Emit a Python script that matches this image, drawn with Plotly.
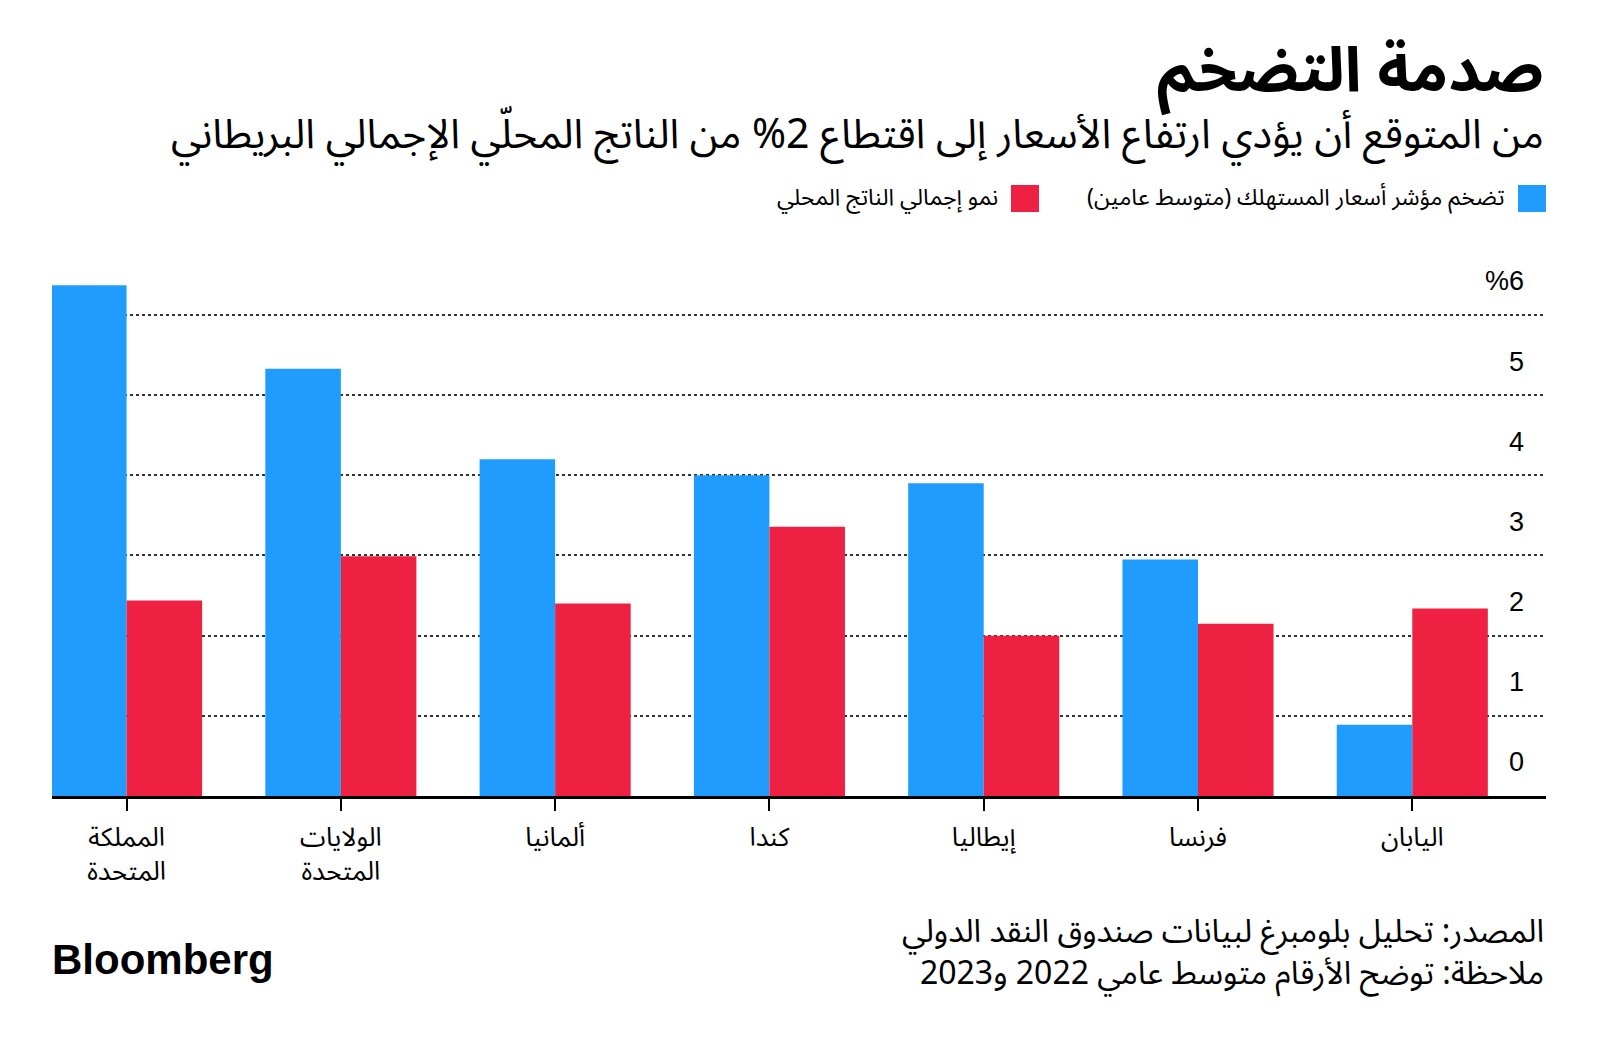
import plotly.graph_objects as go

RLM = "\u200f"

categories = ["المملكة<br>المتحدة", "الولايات<br>المتحدة", "ألمانيا", "كندا", "إيطاليا", "فرنسا", "اليابان"]
series_names = ["تضخم مؤشر أسعار المستهلك (متوسط عامين)", "نمو إجمالي الناتج المحلي"]
cpi_values = [6.37, 5.33, 4.2, 4.0, 3.9, 2.95, 0.89]
gdp_values = [2.44, 2.99, 2.4, 3.36, 2.0, 2.15, 2.34]
y_tickvals = [0, 1, 2, 3, 4, 5, 6]
y_ticktext = ["0", "1", "2", "3", "4", "5", "%6"]

title_text = "صدمة التضخم"
subtitle_text = "من المتوقع أن يؤدي ارتفاع الأسعار إلى اقتطاع 2% من الناتج المحلّي الإجمالي البريطاني"
source_text = "المصدر: تحليل بلومبرغ لبيانات صندوق النقد الدولي"
note_text = "ملاحظة: توضح الأرقام متوسط عامي 2022 و2023"

BLUE = "#1f9cfd"
RED = "#ee2142"
AR_FONT = "Noto Sans Arabic, DejaVu Sans, sans-serif"
NUM_FONT = "Liberation Sans, Arial, sans-serif"

W, H = 1600, 1038
L, R, T, B = 52, 54, 250, 242
PW, PH = W - L - R, H - T - B
Y_TOP = (H - B - T) / 80.17

fig = go.Figure()
fig.add_trace(go.Bar(x=categories, y=cpi_values, name=series_names[0], marker_color=BLUE,
                     marker_line_width=0, showlegend=False, hoverinfo="skip"))
fig.add_trace(go.Bar(x=categories, y=gdp_values, name=series_names[1], marker_color=RED,
                     marker_line_width=0, showlegend=False, hoverinfo="skip"))

fig.update_layout(
    width=W, height=H,
    margin=dict(l=L, r=R, t=T, b=B, pad=0, autoexpand=False),
    paper_bgcolor="white", plot_bgcolor="white",
    barmode="group", bargap=0.295, bargroupgap=0,
    font=dict(family=AR_FONT, color="black"),
)
fig.update_xaxes(
    type="category",
    range=[-0.348, 6.624],
    automargin=False,
    showline=True, linecolor="black", linewidth=3,
    ticks="outside", ticklen=12, tickwidth=2, tickcolor="black",
    tickfont=dict(family=AR_FONT, size=26, color="black"),
    ticklabelstandoff=4,
    showgrid=False, zeroline=False,
)
fig.update_yaxes(
    range=[0, Y_TOP],
    automargin=False,
    side="right",
    ticklabelposition="inside",
    tickvals=y_tickvals, ticktext=y_ticktext,
    tickfont=dict(family=NUM_FONT, size=27, color="black"),
    ticklabelstandoff=19, ticklabelshift=-34,
    showgrid=True, gridcolor="#333333", gridwidth=1.5, griddash="3px,3px",
    showline=False, zeroline=False, ticks="",
)

def px_x(px):
    return (px - L) / PW

def px_y(py):
    return (H - B - py) / PH

annotations = [
    dict(text=RLM + title_text + RLM, x=px_x(1546), y=px_y(71), xanchor="right", yanchor="middle",
         font=dict(family=AR_FONT, size=62, color="black", weight="bold")),
    dict(text=RLM + subtitle_text + RLM, x=px_x(1546), y=px_y(135), xanchor="right", yanchor="middle",
         font=dict(family=AR_FONT, size=41, color="black")),
    dict(text=RLM + series_names[0] + RLM, x=px_x(1507), y=px_y(198), xanchor="right", yanchor="middle",
         font=dict(family=AR_FONT, size=23, color="black")),
    dict(text=RLM + series_names[1] + RLM, x=px_x(1000), y=px_y(198), xanchor="right", yanchor="middle",
         font=dict(family=AR_FONT, size=23, color="black")),
    dict(text=RLM + source_text + RLM + "<br>" + RLM + note_text + RLM,
         x=px_x(1546), y=px_y(953), xanchor="right", yanchor="middle", align="right",
         font=dict(family=AR_FONT, size=32, color="black")),
    dict(text="Bloomberg", x=px_x(50), y=px_y(959), xanchor="left", yanchor="middle",
         font=dict(family="Liberation Sans, Arial, sans-serif", size=42, color="black", weight="bold")),
]
for a in annotations:
    a.update(xref="paper", yref="paper", showarrow=False)
fig.update_layout(annotations=annotations)

shapes = [
    dict(type="rect", xref="paper", yref="paper", x0=px_x(1518), x1=px_x(1546), y0=px_y(212), y1=px_y(185),
         fillcolor=BLUE, line_width=0),
    dict(type="rect", xref="paper", yref="paper", x0=px_x(1011), x1=px_x(1039), y0=px_y(212), y1=px_y(185),
         fillcolor=RED, line_width=0),
]
fig.update_layout(shapes=shapes)

fig.write_html("out.html", config={"displayModeBar": False},
               post_script="document.body.style.margin='0';")
